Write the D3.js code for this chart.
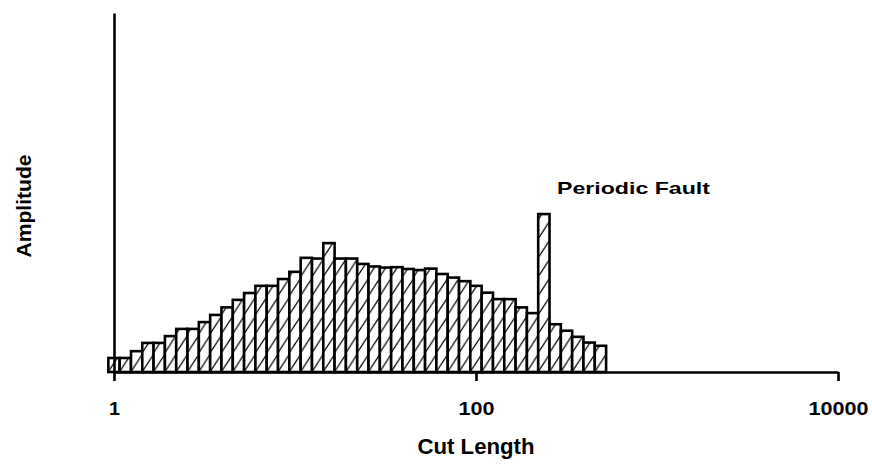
<!DOCTYPE html>
<html>
<head>
<meta charset="utf-8">
<script src="https://cdn.jsdelivr.net/npm/d3@7"></script>
<style>
  html, body { margin: 0; padding: 0; background: #fff; }
  svg { display: block; }
  text { font-family: "Liberation Sans", Arial, sans-serif; font-weight: bold; fill: #000; }
</style>
</head>
<body>
<svg id="chart" width="872" height="470"></svg>
<script>
// ---- data ----
// bin centres of cut length (1/16-decade bins)
const cutLength = [1, 1.155, 1.334, 1.540, 1.778, 2.054, 2.371, 2.738, 3.162, 3.652,
  4.217, 4.870, 5.623, 6.494, 7.499, 8.660, 10, 11.55, 13.34, 15.40,
  17.78, 20.54, 23.71, 27.38, 31.62, 36.52, 42.17, 48.70, 56.23, 64.94,
  74.99, 86.60, 100, 115.5, 133.4, 154.0, 177.8, 205.4, 237.1, 273.8,
  316.2, 365.2, 421.7, 487.0];
// amplitude (arbitrary units, axis runs 0..100)
const amplitude = [3.9, 3.9, 5.8, 8.1, 8.1, 10.0, 12.0, 12.0, 13.9, 15.9,
  18.0, 20.1, 22.0, 24.0, 24.0, 25.9, 27.9, 31.8, 31.6, 35.9,
  31.6, 31.6, 30.1, 29.4, 29.1, 29.2, 28.7, 28.4, 28.8, 27.3,
  26.3, 25.3, 24.0, 22.1, 20.3, 20.3, 18.0, 16.4, 44.0, 13.3,
  11.5, 9.8, 8.2, 7.3];
const xTickValues = [1, 100, 10000];
const xTickLabels = ["1", "100", "10000"];
const xTitle = "Cut Length";
const yTitle = "Amplitude";
const annotation = { text: "Periodic Fault" };

// ---- drawing ----
const svg = d3.select("#chart");
const x = d3.scaleLog().domain([1, 10000]).range([114, 838]);
const y = d3.scaleLinear().domain([0, 100]).range([372, 13]);
const halfBin = Math.pow(10, 1 / 32);

const data = cutLength.map((c, i) => ({ c, a: amplitude[i] }));
const x0 = d => x(d.c / halfBin);
const x1 = d => x(d.c * halfBin);
const bw = x1(data[0]) - x0(data[0]);

const defs = svg.append("defs");
const pat = defs.append("pattern")
  .attr("id", "hatch")
  .attr("patternUnits", "userSpaceOnUse")
  .attr("x", x0(data[0]))
  .attr("y", y(0))
  .attr("width", bw)
  .attr("height", 19);
pat.append("rect").attr("width", bw).attr("height", 19).attr("fill", "#fff");
pat.append("line")
  .attr("x1", 0.5).attr("y1", 18)
  .attr("x2", bw - 0.5).attr("y2", 2)
  .attr("stroke", "#111").attr("stroke-width", 1.3);

svg.append("g").selectAll("rect")
  .data(data)
  .join("rect")
  .attr("x", d => x0(d))
  .attr("width", d => x1(d) - x0(d))
  .attr("y", d => y(d.a))
  .attr("height", d => y(0) - y(d.a))
  .attr("fill", "url(#hatch)")
  .attr("stroke", "#000")
  .attr("stroke-width", 2.6);

// x axis
const xAxis = svg.append("g")
  .attr("transform", `translate(0,${y(0)})`)
  .call(d3.axisBottom(x).tickValues(xTickValues).tickSize(9).tickSizeOuter(0)
    .tickFormat((d, i) => xTickLabels[i]));
xAxis.select(".domain").attr("stroke", "#000").attr("stroke-width", 2.6);
xAxis.selectAll(".tick line").attr("stroke", "#000").attr("stroke-width", 2.6);
const labelLen = { "1": 11, "100": 36, "10000": 60 };
xAxis.selectAll(".tick text")
  .attr("y", 43).attr("dy", 0)
  .style("font-size", "19px")
  .style("font-family", "'Liberation Sans', Arial, sans-serif")
  .style("font-weight", "bold")
  .attr("textLength", (d, i) => labelLen[xTickLabels[i]])
  .attr("lengthAdjust", "spacingAndGlyphs");

// y axis
const yAxis = svg.append("g")
  .attr("transform", `translate(${x(1)},0)`)
  .call(d3.axisLeft(y).tickValues([]).tickSizeOuter(0));
yAxis.select(".domain").attr("stroke", "#000").attr("stroke-width", 2.6);

// titles
svg.append("text")
  .attr("x", 476).attr("y", 454)
  .attr("text-anchor", "middle")
  .style("font-size", "22px")
  .attr("textLength", 117).attr("lengthAdjust", "spacingAndGlyphs")
  .text(xTitle);

svg.append("text")
  .attr("transform", "translate(31,206) rotate(-90)")
  .attr("text-anchor", "middle")
  .style("font-size", "21px")
  .attr("textLength", 103).attr("lengthAdjust", "spacingAndGlyphs")
  .text(yTitle);

svg.append("text")
  .attr("x", 557).attr("y", 194)
  .style("font-size", "17px")
  .attr("textLength", 153).attr("lengthAdjust", "spacingAndGlyphs")
  .text(annotation.text);
</script>
</body>
</html>
